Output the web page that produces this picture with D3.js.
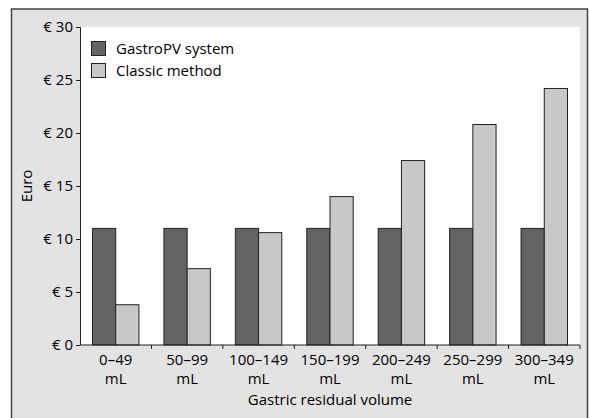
<!DOCTYPE html>
<html><head><meta charset="utf-8">
<script src="https://cdn.jsdelivr.net/npm/d3@7"></script>
<style>
body{margin:0;background:#fff;}
text{font-family:"Open Sans",sans-serif;fill:#000;}
</style></head>
<body><svg id="c" width="589" height="418"></svg>
<script>
const categories = ["0–49 mL","50–99 mL","100–149 mL","150–199 mL","200–249 mL","250–299 mL","300–349 mL"];
const seriesNames = ["GastroPV system","Classic method"];
const gastroPV = [11,11,11,11,11,11,11];
const classic = [3.8,7.2,10.6,14.0,17.4,20.8,24.2];
const yTicks = [0,5,10,15,20,25,30];
const colors = ["#636363","#c8c8c8"];

const svg = d3.select("#c");
const m = {l:80, r:9, t:27, b:73};
const W = 589, H = 418;
const FS = "15px";
svg.append("rect").attr("x",11.5).attr("y",9).attr("width",576).attr("height",H)
  .attr("fill","#e3e3e3").attr("stroke","#444").attr("stroke-width",1.5);
const x = d3.scaleBand().domain(categories).range([m.l, W-m.r]).paddingInner(0.35).paddingOuter(0.175);
const xb = d3.scaleBand().domain(categories).range([m.l, W-m.r]);
const y = d3.scaleLinear().domain([0,30]).range([H-m.b, m.t]);
svg.append("rect").attr("x",m.l).attr("y",m.t).attr("width",W-m.r-m.l).attr("height",H-m.b-m.t).attr("fill","#fefefe");
const x1 = d3.scaleBand().domain([0,1]).range([0,x.bandwidth()]);
const data = categories.map((c,i)=>({c, v:[gastroPV[i], classic[i]]}));
const g = svg.append("g");
g.selectAll("g").data(data).join("g").attr("transform",d=>`translate(${x(d.c)},0)`)
 .selectAll("rect").data(d=>d.v.map((v,k)=>({v,k}))).join("rect")
 .attr("x",d=>x1(d.k)).attr("width",x1.bandwidth()).attr("y",d=>y(d.v)).attr("height",d=>y(0)-y(d.v))
 .attr("fill",d=>colors[d.k]).attr("stroke","#222").attr("stroke-width",1);

// y axis
const ya = svg.append("g").attr("transform",`translate(${m.l},0)`)
  .call(d3.axisLeft(y).tickValues(yTicks).tickSize(4).tickPadding(3).tickFormat(d=>"€ "+d));
ya.select(".domain").attr("stroke","#222").attr("d",`M0.5,${m.t}V${H-m.b}`);
ya.selectAll("text").style("font-size",FS).attr("fill","#000");
ya.selectAll("line").attr("stroke","#222");
// x axis
const xa = svg.append("g").attr("transform",`translate(0,${H-m.b})`);
xa.append("line").attr("x1",m.l).attr("x2",W-m.r).attr("stroke","#222").attr("stroke-width",1.2);
const bounds = categories.map(c=>xb(c)+xb.bandwidth());
xa.selectAll("line.t").data(bounds).join("line").attr("class","t")
  .attr("x1",d=>d).attr("x2",d=>d).attr("y1",0).attr("y2",4).attr("stroke","#222");
const lab = xa.selectAll("text").data(categories).join("text")
  .attr("x",d=>xb(d)+xb.bandwidth()/2).attr("text-anchor","middle").style("font-size",FS);
lab.append("tspan").attr("x",d=>xb(d)+xb.bandwidth()/2).attr("y",20).text(d=>d.split(" ")[0]);
lab.append("tspan").attr("x",d=>xb(d)+xb.bandwidth()/2).attr("y",39).text(d=>d.split(" ")[1]);
svg.append("text").attr("x",(m.l+W-m.r)/2).attr("y",405).attr("text-anchor","middle").style("font-size",FS).text("Gastric residual volume");
svg.append("text").attr("transform",`translate(32,${(m.t+H-m.b)/2}) rotate(-90)`).attr("text-anchor","middle").style("font-size",FS).text("Euro");

// legend
const lg = svg.append("g");
seriesNames.forEach((s,i)=>{
  lg.append("rect").attr("x",91.5).attr("y",41.5+i*22).attr("width",14).attr("height",14).attr("fill",colors[i]).attr("stroke","#222");
  lg.append("text").attr("x",116).attr("y",54).attr("dy",i*22).style("font-size",FS).text(s);
});
</script></body></html>
